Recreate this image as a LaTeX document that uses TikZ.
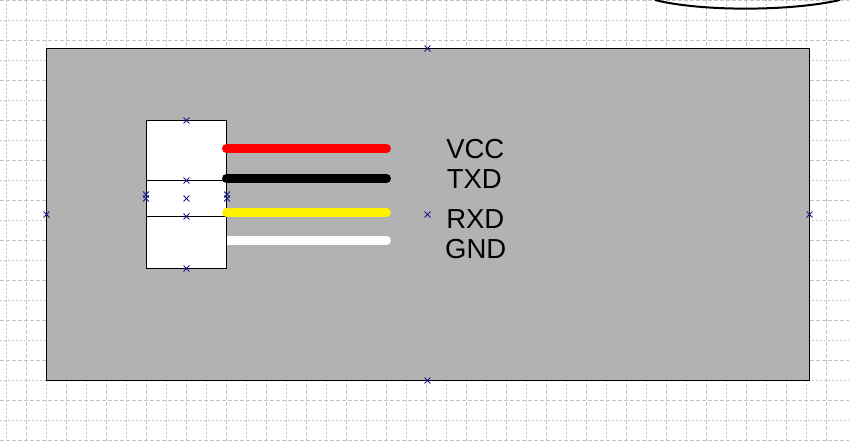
\documentclass[tikz,border=0pt]{standalone}
\usepackage{fontspec}
\setmainfont{Liberation Sans}
\usetikzlibrary{shapes.misc}
\definecolor{gridgray}{HTML}{C4C4C4}
\definecolor{panelgray}{HTML}{B2B2B2}
\definecolor{handleblue}{HTML}{1A1A8C}
\tikzset{
  minor/.style={gridgray, line width=1pt, dash pattern=on 2pt off 2pt},
  major/.style={gridgray, line width=1pt, dash pattern=on 4pt off 2pt},
  wire/.style={line width=9pt, line cap=round},
  pin/.style={font=\fontsize{27.5}{27.5}\selectfont, text=black, inner sep=0pt, anchor=base},
  handle/.style={cross out, draw=handleblue, line width=.9pt, minimum size=5pt, inner sep=0pt}
}
\begin{document}
\begin{tikzpicture}[x=1pt,y=-1pt]
   \useasboundingbox[fill=white] (0,0) rectangle (849,441);

   % grid
   \foreach \i in {0,...,20}
   \draw[minor] (6.7+\i*40,0) -- (6.7+\i*40,441);
   \foreach \i in {0,...,20}
   \draw[major] (26.7+\i*40,0) -- (26.7+\i*40,441);
   \foreach \i in {0,...,10}
   \draw[minor] (0,20.5+\i*40) -- (849,20.5+\i*40);
   \foreach \i in {0,...,11}
   \draw[major] (0,.5+\i*40) -- (849,.5+\i*40);

   % top arc
   \draw[line width=2pt] (655,0) .. controls (700,11.5) and (790,11.5) .. (840,0);

   % panel and connector
   \draw[fill=panelgray, line width=1.2pt] (46.5,48.5) rectangle (809.5,380.5);
   \draw[fill=white, line width=1.2pt] (146.5,120.5) rectangle (226.5,268.5);
   \draw[line width=1.2pt] (146.5,180.5) -- (226.5,180.5);
   \draw[line width=1.2pt] (146.5,216.5) -- (226.5,216.5);

   % wires
   \coordinate (vccA) at (226.5,148.5);
   \coordinate (vccB) at (386.5,148.5);
   \coordinate (txdA) at (226.5,178.5);
   \coordinate (txdB) at (386.5,178.5);
   \coordinate (rxdA) at (226.5,212.5);
   \coordinate (rxdB) at (386.5,212.5);
   \coordinate (gndA) at (226.5,240.5);
   \coordinate (gndB) at (386.5,240.5);
   \draw[wire, red] (vccA) -- (vccB);
   \draw[wire, black] (txdA) -- (txdB);
   \draw[wire, yellow] (rxdA) -- (rxdB);
   \draw[wire, white, line cap=butt] (gndA) -- (gndB);
   \fill[white] (gndB) circle (4.5);

   \node[pin] (vcc) at (475.3,158.8) {VCC};
   \node[pin] (txd) at (474.3,188.8) {TXD};
   \node[pin] (rxd) at (475.3,228.5) {RXD};
   \node[pin] (gnd) at (475.8,258.5) {GND};

   % handles
   \foreach \hx/\hy in {427.5/48.5,427.5/380.5,46.5/214.5,809.5/214.5,427.5/214.5,186.5/120.5,186.5/268.5,146/194.5,146/198.5,227/194.5,227/198.5,186.5/198.5,186.5/180.5,186.5/216.5}
   \node[handle] at (\hx,\hy) {};

\end{tikzpicture}
\end{document}
